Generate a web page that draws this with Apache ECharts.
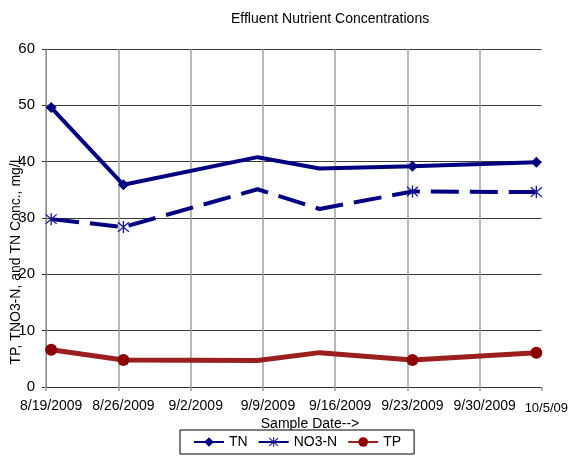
<!DOCTYPE html>
<html>
<head>
<meta charset="utf-8">
<script src="https://cdn.jsdelivr.net/npm/echarts@6/dist/echarts.min.js"></script>
<style>
html,body{margin:0;padding:0;background:#fff;}
#chart{width:571px;height:456px;}
</style>
</head>
<body>
<div id="chart"></div>
<script>
// ---- data ----
const axisStart = '2009-08-19';
const axisEnd = '2009-10-05';
const labelDates = ['2009-08-19','2009-08-26','2009-09-02','2009-09-09','2009-09-16','2009-09-23','2009-09-30','2009-10-05'];
const tickLabels = ['8/19/2009','8/26/2009','9/2/2009','9/9/2009','9/16/2009','9/23/2009','9/30/2009','10/5/09'];
const gridDates = ['2009-08-19','2009-08-26','2009-09-02','2009-09-09','2009-09-16','2009-09-23','2009-09-30'];
const sampleDates = ['2009-08-19','2009-08-26','2009-09-08','2009-09-14','2009-09-23','2009-10-05'];
const tnValues = [49.6, 35.9, 40.8, 38.8, 39.2, 39.9];
const no3Values = [29.8, 28.4, 35.1, 31.6, 34.7, 34.6];
const tpValues = [6.6, 4.8, 4.7, 6.1, 4.8, 6.1];
const yTicks = [0, 10, 20, 30, 40, 50, 60];

// build day categories (each day is one band, like a spreadsheet date axis)
function buildDays(a, b) {
  const out = [];
  let t = Date.UTC(+a.slice(0,4), +a.slice(5,7)-1, +a.slice(8,10));
  const e = Date.UTC(+b.slice(0,4), +b.slice(5,7)-1, +b.slice(8,10));
  while (t <= e) {
    out.push(new Date(t).toISOString().slice(0,10));
    t += 86400000;
  }
  return out;
}
const days = buildDays(axisStart, axisEnd);
const pairs = (vals) => sampleDates.map((d, i) => [d, vals[i]]);

const FONT = "'Liberation Sans', Arial, sans-serif";
const asterisk = 'path://M-1,-10L1,-10L1,10L-1,10Z M-8.7,-7.3L-7.3,-8.7L8.7,7.3L7.3,8.7Z M7.3,-8.7L8.7,-7.3L-7.3,8.7L-8.7,7.3Z';

const chart = echarts.init(document.getElementById('chart'), null, {renderer: 'canvas'});
chart.setOption({
  animation: false,
  backgroundColor: '#fff',
  textStyle: {fontFamily: FONT},
  title: {
    text: 'Effluent Nutrient Concentrations',
    left: 226, top: 7,
    textStyle: {fontFamily: FONT, fontSize: 14, fontWeight: 'normal', color: '#000'}
  },
  grid: {left: 46, right: 28, top: 49, bottom: 69, containLabel: false},
  xAxis: {
    type: 'category',
    data: days,
    boundaryGap: true,
    axisLine: {show: true, lineStyle: {color: '#333', width: 1}},
    axisTick: {show: true, length: 4, interval: (i, v) => gridDates.includes(v), lineStyle: {color: '#999', width: 1.5}},
    splitLine: {show: true, showMaxLine: false, interval: (i, v) => gridDates.includes(v), lineStyle: {color: '#a0a0a0', width: 1.5}},
    axisLabel: {
      interval: (i, v) => labelDates.includes(v),
      showMaxLabel: true,
      showMinLabel: true,
      formatter: (v) => {
        const k = labelDates.indexOf(v);
        return k === labelDates.length - 1 ? '{late|' + tickLabels[k] + '}' : tickLabels[k];
      },
      rich: {late: {fontFamily: FONT, fontSize: 13, color: '#000', padding: [3, 0, 0, 20]}},
      fontFamily: FONT, fontSize: 14, color: '#000', margin: 12
    }
  },
  yAxis: {
    type: 'value',
    min: yTicks[0], max: yTicks[yTicks.length-1], interval: 10,
    axisLine: {show: true, lineStyle: {color: '#888', width: 1}},
    axisTick: {show: true, length: 4, lineStyle: {color: '#333'}},
    splitLine: {show: true, lineStyle: {color: '#3a3a3a', width: 1}},
    axisLabel: {fontFamily: FONT, fontSize: 15, color: '#000', margin: 11}
  },
  legend: {
    left: 180, top: 430,
    orient: 'horizontal',
    borderColor: '#000', borderWidth: 1,
    backgroundColor: '#fff',
    padding: [5, 13, 5, 13],
    itemWidth: 30, itemHeight: 12, itemGap: 10,
    z: 10,
    textStyle: {fontFamily: FONT, fontSize: 14, color: '#000'},
    data: [
      {name: 'TN'},
      {name: 'NO3-N', lineStyle: {type: 'solid'}},
      {name: 'TP'}
    ]
  },
  graphic: [
    {
      type: 'text', z: 0,
      x: 16, y: 260, rotation: Math.PI / 2,
      style: {text: 'TP, TNO3-N, and TN Conc., mg/L', font: '14px ' + FONT, fill: '#000', align: 'center', verticalAlign: 'middle'}
    },
    {
      type: 'text', z: 0,
      x: 310, y: 424,
      style: {text: 'Sample Date-->', font: '14px ' + FONT, fill: '#000', align: 'center', verticalAlign: 'middle'}
    }
  ],
  series: [
    {
      name: 'TN', type: 'line', data: pairs(tnValues),
      symbol: 'diamond', symbolSize: 11,
      itemStyle: {color: '#000080'},
      lineStyle: {color: '#000080', width: 4},
      z: 5
    },
    {
      name: 'NO3-N', type: 'line', data: pairs(no3Values),
      symbol: asterisk, symbolSize: 12,
      itemStyle: {color: '#1a1a99'},
      lineStyle: {color: '#000080', width: 4, type: [28, 11]},
      z: 4
    },
    {
      name: 'TP', type: 'line', data: pairs(tpValues),
      symbol: 'circle', symbolSize: 12,
      itemStyle: {color: '#8b0000'},
      lineStyle: {color: '#9b1f1f', width: 5},
      z: 3
    }
  ]
});
</script>
</body>
</html>
